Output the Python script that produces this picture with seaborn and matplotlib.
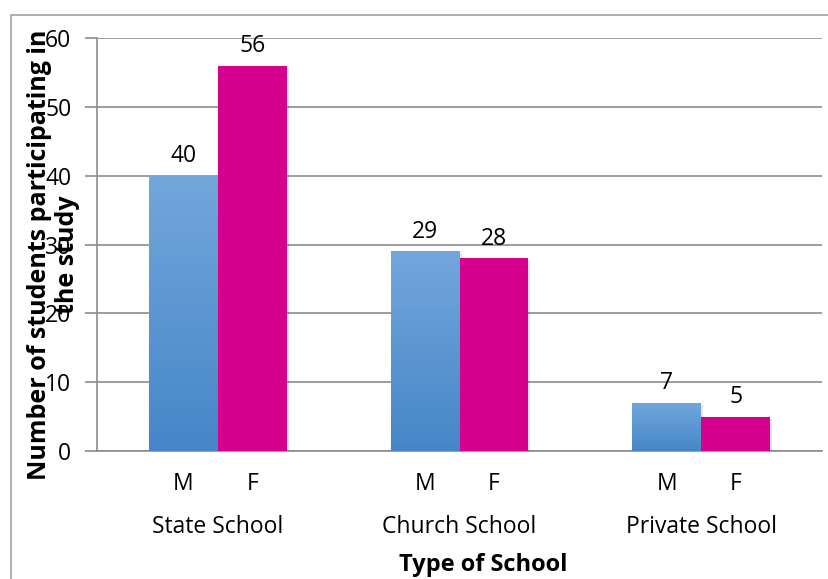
import numpy as np
import pandas as pd
import matplotlib
matplotlib.use('Agg')
import matplotlib.pyplot as plt
import matplotlib.patheffects as pe
from matplotlib.patches import Rectangle
from matplotlib.transforms import blended_transform_factory
import seaborn as sns

# Dados
escolas = ['State School', 'Church School', 'Private School']
sexos = ['M', 'F']
masculino = [40, 29, 7]
feminino = [56, 28, 5]
y_ticks = [0, 10, 20, 30, 40, 50, 60]

dados = pd.DataFrame({
    'Escola': escolas * 2,
    'Sexo': ['M'] * len(escolas) + ['F'] * len(escolas),
    'Alunos': masculino + feminino,
})

sns.set_style('white')
plt.rcParams['font.family'] = ['Open Sans', 'DejaVu Sans']
plt.rcParams['text.color'] = 'black'
plt.rcParams['xtick.labelcolor'] = 'black'
plt.rcParams['ytick.labelcolor'] = 'black'
FS = 16.5

W, H = 829, 579
fig = plt.figure(figsize=(W / 100, H / 100), dpi=100)
ax = fig.add_axes([97 / W, (H - 451) / H, (822 - 97) / W, (451 - 38) / H])

ax = sns.barplot(data=dados, x='Escola', y='Alunos', hue='Sexo', hue_order=sexos,
                 order=escolas, palette={'M': '#5b9bd5', 'F': '#d6008f'}, saturation=1,
                 width=0.57, gap=0, legend=False, ax=ax, zorder=3)

ax.grid(axis='y', color='#8c8c8c', linewidth=1.2, zorder=0)
ax.set_axisbelow(True)

# Gradiente azul nas barras masculinas + sombra leve
gradiente = np.linspace(0, 1, 256).reshape(-1, 1)
cmap_azul = matplotlib.colors.LinearSegmentedColormap.from_list('azul', ['#4686c8', '#72a7dc'])
n = len(escolas)
centros = []
for i, bar in enumerate(ax.patches[:2 * n]):
    bar.set_path_effects([pe.SimplePatchShadow(offset=(1.5, -1.5), alpha=0.12), pe.Normal()])
    bar.set_edgecolor('none')
    centros.append(bar.get_x() + bar.get_width() / 2)
    if i < n:
        x0, w, h = bar.get_x(), bar.get_width(), bar.get_height()
        im = ax.imshow(gradiente, cmap=cmap_azul, origin='lower', extent=[x0, x0 + w, 0, h],
                       aspect='auto', zorder=4)
        im.set_clip_path(bar)

    # Rótulos de valor
    ax.annotate(f'{bar.get_height():g}', (centros[-1], bar.get_height()),
                xytext=(0, 5.5), textcoords='offset points', ha='center', va='bottom',
                fontsize=FS, color='black', zorder=5)

ax.set_xlim(-0.5, n - 0.5)
ax.set_ylim(0, 60)
ax.set_yticks(y_ticks)

# Eixo x em dois níveis
ax.set_xticks(centros)
ax.set_xticklabels(['M'] * n + ['F'] * n, fontsize=FS)
ax.tick_params(axis='x', length=0, pad=15)
tr = blended_transform_factory(ax.transData, fig.transFigure)
for i, escola in enumerate(escolas):
    fig.text(i, 1 - 527 / H, escola, transform=tr, ha='center', va='center', fontsize=FS)
fig.text(483 / W, 1 - 565 / H, 'Type of School', ha='center', va='center',
         fontsize=17, fontweight='bold')
ax.set_xlabel('')

# Eixo y
ax.tick_params(axis='y', length=9, width=1.2, color='#8c8c8c', pad=9.5, labelsize=FS, left=True)
ax.set_ylabel('')
ax.text(-0.06, 0.475, 'Number of students participating in\nthe study', transform=ax.transAxes,
        rotation=90, ha='center', va='center', multialignment='center',
        fontsize=18, fontweight='bold', linespacing=1.15)

for lado in ['top', 'right']:
    ax.spines[lado].set_visible(False)
for lado in ['left', 'bottom']:
    ax.spines[lado].set_color('#8c8c8c')
    ax.spines[lado].set_linewidth(1.2)

# Moldura do gráfico
fig.patches.append(Rectangle((11 / W, -0.1), 1.2, 1 - 15 / H + 0.1, transform=fig.transFigure,
                             fill=False, edgecolor='#a0a0a0', linewidth=1.2))

plt.savefig('out.png', dpi=100)
